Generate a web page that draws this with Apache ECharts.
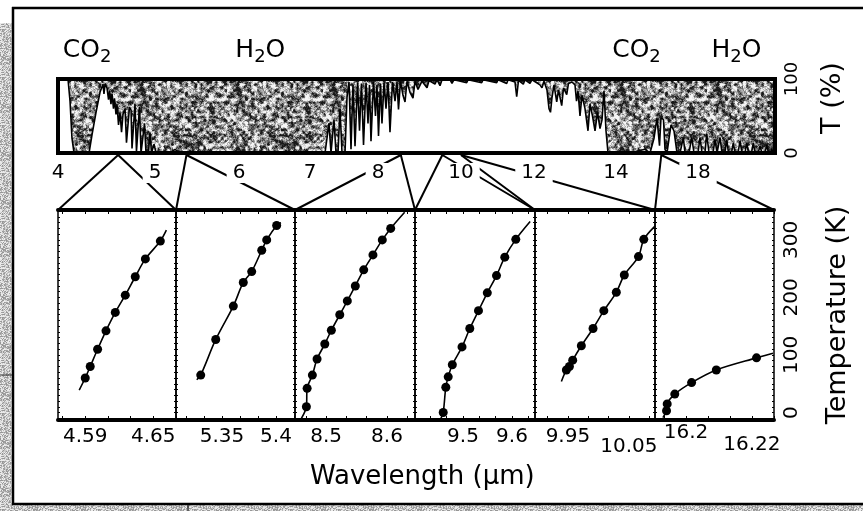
<!DOCTYPE html>
<html>
<head>
<meta charset="utf-8">
<script src="https://cdn.jsdelivr.net/npm/echarts@6/dist/echarts.min.js"></script>
<style>
  html, body { margin: 0; padding: 0; background: #fff; }
  #chart { width: 863px; height: 511px; }
</style>
</head>
<body>
<div id="chart"></div>
<script>
// ---- Transmission strip: wavelength tick labels (µm) ----
const spectrumTicks = [4, 5, 6, 7, 8, 10, 12, 14, 18];
const spectrumEnd = 22;

// ---- Atmospheric transmission spectrum (wavelength µm, transmission %) ----
const specWavelength = [
  4.000, 4.103, 4.124, 4.144, 4.165, 4.320, 4.351, 4.392, 4.433, 4.464, 4.474, 4.485, 4.505,
  4.521, 4.531, 4.546, 4.557, 4.572, 4.582, 4.598, 4.608, 4.624, 4.639, 4.655, 4.670, 4.691,
  4.706, 4.722, 4.737, 4.753, 4.763, 4.778, 4.794, 4.809, 4.825, 4.840, 4.856, 4.876, 4.892,
  4.907, 4.933, 4.948, 4.964, 4.990, 5.012,
  5.179, 5.238, 5.298, 7.221,
  7.250, 7.279, 7.309, 7.353, 7.382, 7.412, 7.441, 7.471, 7.515, 7.544, 7.574, 7.603, 7.632,
  7.662, 7.699, 7.728, 7.757, 7.787, 7.824, 7.853, 7.875, 7.897, 7.934, 7.963, 7.985, 8.012,
  8.060, 8.096, 8.145, 8.193, 8.241, 8.289, 8.349, 8.410, 8.458, 8.494, 8.542, 8.602, 8.651,
  8.699, 8.771, 8.843, 8.892, 8.964, 9.012, 9.060, 9.181, 9.229, 9.373, 9.422,
  9.494, 9.542, 9.735, 9.783, 9.831, 10.156, 10.192, 10.567, 10.603, 10.978, 11.014, 11.252,
  11.288, 11.479, 11.526, 11.575, 11.707, 11.753, 11.890, 11.945, 12.146, 12.195, 12.244,
  12.317, 12.366, 12.402, 12.439, 12.488, 12.554, 12.598, 12.676, 12.720, 12.798, 12.841,
  12.878, 12.927,
  13.000, 13.037, 13.073, 13.122, 13.171, 13.244, 13.317, 13.366, 13.427, 13.488, 13.549,
  13.610, 13.659, 13.707, 13.756, 13.805,
  14.683, 15.415, 15.659, 15.756, 15.854, 16.000, 16.122, 16.195, 16.317, 16.390, 16.488,
  16.683, 16.829, 16.976, 17.122, 17.283, 17.366, 17.561, 17.693, 17.805, 18.000, 18.104,
  18.208, 18.364, 18.452, 18.571, 18.779, 18.883, 18.987, 19.065, 19.143, 19.247, 19.403,
  19.491, 19.584, 19.740, 19.834, 19.922, 20.078, 20.182, 20.286, 20.442, 20.530, 20.623,
  20.779, 20.873, 20.961, 21.117, 21.221, 21.325, 21.481, 21.569, 21.662, 21.766, 21.829,
  21.896, 22.000
];
const specTransmission = [
  100, 100, 70, 20, 0, 0, 25, 55, 82, 93, 80, 93, 88,
  72, 84, 66, 80, 60, 74, 52, 66, 38, 55, 28, 52, 60,
  14, 14, 62, 58, 6, 6, 66, 2, 2, 62, 0, 0, 40,
  0, 0, 28, 0, 12, 0,
  0, 5, 0, 0,
  0, 40, 0, 45, 0, 0, 60, 0, 0, 75, 96, 5, 92,
  9, 95, 30, 94, 11, 95, 40, 92, 16, 96, 50, 92, 23,
  94, 40, 95, 60, 96, 28, 96, 70, 96, 59, 97, 78, 69,
  97, 82, 74, 97, 86, 84, 97, 88, 98, 93, 99,
  91, 99, 99, 94, 99, 95, 99, 95, 99, 95, 99, 94,
  99, 96, 76, 98, 93, 99, 94, 99, 92, 88, 97,
  85, 60, 55, 75, 92, 69, 85, 64, 88, 79, 94,
  92, 96,
  92, 70, 84, 50, 78, 60, 30, 66, 50, 30, 55,
  33, 45, 84, 30, 0,
  0, 5, 0, 0, 20, 47, 10, 48, 45, 5, 0,
  38, 30, 0, 0, 21, 0, 0, 21, 0, 0, 21,
  0, 0, 26, 0, 0, 18, 0, 0, 21, 0, 0,
  18, 0, 0, 14, 0, 0, 16, 0, 0, 14, 0,
  0, 14, 0, 0, 9, 0, 0, 11, 0, 0, 6,
  0, 0
];

// ---- Absorption band annotations ----
const bandNames = ['CO2', 'H2O', 'CO2', 'H2O'];
const bandWavelength = [4.3, 6.3, 15, 20];

// ---- Zoomed windows: axis range (µm) and labelled wavelengths ----
const panelRanges = [[4.566, 4.670], [5.3074, 5.4176], [8.449, 8.646], [9.402, 9.647], [9.896, 10.093], [16.1906, 16.2267]];
const panelLabels = [[4.59, 4.65], [5.35, 5.4], [8.5, 8.6], [9.5, 9.6], [9.95, 10.05], [16.2, 16.22]];

// Temperature vs wavelength in each window. First and last entries are where the
// drawn curve starts and stops; the entries between are the measured points.
const p1Wavelength = [4.5847, 4.5900, 4.5944, 4.6009, 4.6083, 4.6165, 4.6253, 4.6341, 4.6430, 4.6562, 4.6615];
const p1Temperature = [39, 60, 80, 110, 142, 174, 204, 236, 267, 298, 317];
const p2Wavelength = [5.3266, 5.3303, 5.3442, 5.3605, 5.3697, 5.3775, 5.3868, 5.3914, 5.4006, 5.4046];
const p2Temperature = [57, 65, 127, 185, 226, 245, 282, 300, 325, 330];
const p3Wavelength = [8.4595, 8.4677, 8.4689, 8.4775, 8.4852, 8.4979, 8.5087, 8.5225, 8.5349, 8.5480, 8.5618, 8.5770, 8.5923, 8.6061, 8.6290];
const p3Temperature = [-10, 10, 42, 65, 93, 119, 143, 170, 194, 220, 248, 274, 300, 320, 348];
const p4Wavelength = [9.4545, 9.4596, 9.4649, 9.4698, 9.4782, 9.4980, 9.5139, 9.5316, 9.5496, 9.5684, 9.5853, 9.6078, 9.6371];
const p4Temperature = [-11, 0, 44, 62, 83, 114, 146, 177, 208, 238, 270, 301, 332];
const p5Wavelength = [9.9393, 9.9475, 9.9525, 9.9579, 9.9721, 9.9913, 10.0090, 10.0295, 10.0426, 10.0659, 10.0746, 10.0930];
const p5Temperature = [54, 74, 80, 91, 116, 146, 177, 209, 239, 271, 301, 324];
const p6Wavelength = [16.1930, 16.1941, 16.1943, 16.1966, 16.2017, 16.2092, 16.2214, 16.2264];
const p6Temperature = [-9, 3, 15, 32, 52, 74, 95, 103];

const panelWavelength = [p1Wavelength, p2Wavelength, p3Wavelength, p4Wavelength, p5Wavelength, p6Wavelength];
const panelTemperature = [p1Temperature, p2Temperature, p3Temperature, p4Temperature, p5Temperature, p6Temperature];

const tempRange = [-13, 352];
const tempLabels = [0, 100, 200, 300];

// ---------------- layout / style ----------------
const FONT = 'DejaVu Sans';
// horizontal placement of the strip's tick marks (px from its left edge); the wavelength
// scale of the strip is piecewise linear between them
const stripTickPx = [0, 97, 181, 252, 320, 403, 476, 558, 640];
const stripEndPx = 717;
const panelEdges = [58, 176, 295, 415, 535, 655, 774];
const labelDrop = { '10.05': 14, '16.22': 12, '16.2': 0 };

function warp(l) {
  const ks = spectrumTicks.concat([spectrumEnd]);
  const ps = stripTickPx.concat([stripEndPx]);
  for (let i = 0; i < ks.length - 1; i++) {
    if (l <= ks[i + 1] || i === ks.length - 2) {
      return ps[i] + (l - ks[i]) / (ks[i + 1] - ks[i]) * (ps[i + 1] - ps[i]);
    }
  }
}

// deterministic grain texture used for the opaque parts of the strip
function hash2(i, j, seed) {
  let h = (Math.imul(i, 374761393) + Math.imul(j, 668265263) + Math.imul(seed, 1442695041)) | 0;
  h = Math.imul(h ^ (h >>> 13), 1274126177);
  h = h ^ (h >>> 16);
  return (h >>> 0) / 4294967296;
}
function valueNoise(x, y, cell, period, seed) {
  const gx = x / cell, gy = y / cell;
  const i0 = Math.floor(gx), j0 = Math.floor(gy);
  const fx = gx - i0, fy = gy - j0;
  const sx = fx * fx * (3 - 2 * fx), sy = fy * fy * (3 - 2 * fy);
  const p = period;
  const a = hash2(i0 % p, j0 % p, seed), b = hash2((i0 + 1) % p, j0 % p, seed);
  const c = hash2(i0 % p, (j0 + 1) % p, seed), d = hash2((i0 + 1) % p, (j0 + 1) % p, seed);
  return (a * (1 - sx) + b * sx) * (1 - sy) + (c * (1 - sx) + d * sx) * sy;
}
function makeTexture(size, dark, light, contrast, octaves) {
  const cv = document.createElement('canvas');
  cv.width = cv.height = size;
  const ctx = cv.getContext('2d');
  const img = ctx.createImageData(size, size);
  for (let y = 0; y < size; y++) {
    for (let x = 0; x < size; x++) {
      let n = 0;
      octaves.forEach(([cell, w, seed]) => { n += w * valueNoise(x, y, cell, size / cell, seed); });
      let g = 0.5 + (n - 0.5) * contrast;
      g = Math.max(0, Math.min(1, g));
      const v = Math.round(dark + (light - dark) * g);
      const k = (y * size + x) * 4;
      img.data[k] = img.data[k + 1] = img.data[k + 2] = v;
      img.data[k + 3] = 255;
    }
  }
  ctx.putImageData(img, 0, 0);
  return cv;
}
const grain = { image: makeTexture(96, 25, 245, 2.5, [[3, 0.5, 7], [2, 0.3, 13], [1, 0.2, 29]]), repeat: 'repeat' };
const paper = { image: makeTexture(48, 150, 235, 1.6, [[1, 1, 41]]), repeat: 'repeat' };

const chart = echarts.init(document.getElementById('chart'), null, { renderer: 'canvas' });

const grids = [{
  left: 58, top: 79, width: stripEndPx, height: 74, show: true,
  borderColor: '#000', borderWidth: 4, backgroundColor: 'transparent', z: 5, outerBoundsMode: 'none'
}];
for (let i = 0; i < 6; i++) {
  grids.push({
    left: panelEdges[i], top: 210, width: panelEdges[i + 1] - panelEdges[i], height: 210, show: true,
    borderColor: '#000', borderWidth: 1.5, backgroundColor: 'transparent', z: 5, outerBoundsMode: 'none'
  });
}

const stripTickValues = spectrumTicks.map(warp);
const xAxes = [{
  gridIndex: 0, type: 'value', min: 0, max: stripEndPx, position: 'bottom', z: 10,
  axisLine: { show: false, onZero: false },
  axisTick: { show: false },
  splitLine: { show: false },
  axisLabel: {
    customValues: stripTickValues,
    formatter: v => {
      let best = 0;
      stripTickValues.forEach((t, k) => { if (Math.abs(t - v) < Math.abs(stripTickValues[best] - v)) best = k; });
      return String(spectrumTicks[best]);
    },
    fontFamily: FONT, fontSize: 20, color: '#000', margin: 10,
    backgroundColor: '#fff', padding: [0, 6]
  }
}];
const yAxes = [{
  gridIndex: 0, type: 'value', min: 0, max: 100, position: 'right',
  axisLine: { show: false, onZero: false }, axisTick: { show: false }, splitLine: { show: false },
  axisLabel: { customValues: [0, 100], rotate: 90, fontFamily: FONT, fontSize: 18, color: '#000', margin: 8 },
  name: 'T (%)', nameLocation: 'middle', nameRotate: 90, nameGap: 44, nameMoveOverlap: false,
  nameTextStyle: { fontFamily: FONT, fontSize: 27, color: '#000', padding: [0, 0, 0, 36] }
}];

const tempTicks = [];
for (let t = -10; t <= 350; t += 10) tempTicks.push(t);

for (let i = 0; i < 6; i++) {
  const [lo, hi] = panelRanges[i];
  const [a, b] = panelLabels[i];
  const step = (b - a) / 3;
  const ticks = [];
  for (let t = a - Math.floor((a - lo) / step) * step; t <= hi + 1e-9; t += step) ticks.push(+t.toFixed(6));
  const rich = { d: { fontFamily: FONT, fontSize: 20, color: '#000', padding: [4, 0, 0, 0] } };
  const keys = Object.keys(labelDrop);
  keys.forEach((k, n) => {
    rich['p' + n] = { fontFamily: FONT, fontSize: 20, color: '#000', padding: [labelDrop[k], 0, 0, 0] };
  });
  xAxes.push({
    gridIndex: i + 1, type: 'value', min: lo, max: hi, position: 'bottom',
    axisLine: { show: true, onZero: false, lineStyle: { color: '#000', width: 4 } },
    axisTick: { show: true, inside: true, length: 4, customValues: ticks, lineStyle: { color: '#000', width: 1 } },
    splitLine: { show: false },
    axisLabel: {
      customValues: panelLabels[i], margin: 3,
      formatter: v => {
        const s = String(v);
        const n = keys.indexOf(s);
        return n >= 0 ? '{p' + n + '|' + s + '}' : '{d|' + s + '}';
      },
      rich: rich
    }
  });
  xAxes.push({
    gridIndex: i + 1, type: 'value', min: lo, max: hi, position: 'top',
    axisLine: { show: true, onZero: false, lineStyle: { color: '#000', width: 4 } },
    axisTick: { show: true, inside: true, length: 4, customValues: ticks, lineStyle: { color: '#000', width: 1 } },
    splitLine: { show: false }, axisLabel: { show: false }
  });
  const side = {
    gridIndex: i + 1, type: 'value', min: tempRange[0], max: tempRange[1],
    axisLine: { show: false, onZero: false },
    axisTick: { show: true, inside: true, length: 2, customValues: tempTicks, lineStyle: { color: '#000', width: 1 } },
    splitLine: { show: false }, axisLabel: { show: false }
  };
  yAxes.push(Object.assign({}, side, { position: 'left' }));
  const right = Object.assign({}, side, { position: 'right' });
  if (i === 5) {
    right.axisLabel = { show: true, customValues: tempLabels, rotate: 90, fontFamily: FONT, fontSize: 20, color: '#000', margin: 8 };
    right.name = 'Temperature (K)';
    right.nameLocation = 'middle';
    right.nameRotate = 90;
    right.nameGap = 50;
    right.nameMoveOverlap = false;
    right.nameTextStyle = { fontFamily: FONT, fontSize: 27, color: '#000' };
  }
  yAxes.push(right);
}

const series = [{
  type: 'line', xAxisIndex: 0, yAxisIndex: 0, showSymbol: false, z: 2,
  data: specWavelength.map((l, i) => [warp(l), specTransmission[i]]),
  lineStyle: { color: '#000', width: 1.6 },
  areaStyle: { origin: 'end', color: grain, opacity: 1 }
}, {
  type: 'scatter', xAxisIndex: 0, yAxisIndex: 0, symbolSize: 0, z: 6, silent: true,
  itemStyle: { color: '#000' },
  data: bandNames.map((n, i) => ({ name: n, value: [warp(bandWavelength[i]), 100] })),
  label: {
    show: true, position: 'top', distance: 13, color: '#000', opacity: 1, textBorderWidth: 0,
    formatter: p => '{m|' + p.name.replace(/(\d)/g, '}{s|$1}{m|') + '}',
    rich: {
      m: { fontFamily: FONT, fontSize: 25, color: '#000', lineHeight: 32 },
      s: { fontFamily: FONT, fontSize: 18, color: '#000', lineHeight: 14, verticalAlign: 'bottom' }
    }
  },
  emphasis: { disabled: true }
}];
for (let i = 0; i < 6; i++) {
  const xs = panelWavelength[i], ts = panelTemperature[i];
  series.push({
    type: 'line', xAxisIndex: 1 + 2 * i, yAxisIndex: 1 + 2 * i, smooth: 0.3, z: 3,
    symbol: 'circle', symbolSize: 9,
    itemStyle: { color: '#000' },
    lineStyle: { color: '#000', width: 1.6 },
    data: xs.map((x, k) => (k === 0 || k === xs.length - 1)
      ? { value: [x, ts[k]], symbol: 'none' }
      : { value: [x, ts[k]] })
  });
}

chart.setOption({
  animation: false,
  backgroundColor: '#fff',
  textStyle: { fontFamily: FONT },
  title: {
    text: 'Wavelength (µm)', left: 310, top: 464, padding: 0,
    textStyle: { fontFamily: FONT, fontSize: 26, fontWeight: 'normal', color: '#000' }
  },
  grid: grids,
  xAxis: xAxes,
  yAxis: yAxes,
  series: series
});

// connectors from the strip down to each zoomed window, plus the page frame
const stripBottom = chart.convertToPixel({ yAxisIndex: 0 }, 0) + 2;
const elements = [
  { type: 'rect', shape: { x: 0, y: 23, width: 11.5, height: 488 }, style: { fill: paper }, z: 0 },
  { type: 'rect', shape: { x: 0, y: 505, width: 863, height: 6 }, style: { fill: paper }, z: 0 },
  { type: 'line', shape: { x1: 12, y1: 8, x2: 863, y2: 8 }, style: { stroke: '#000', lineWidth: 2.5 }, z: 1 },
  { type: 'line', shape: { x1: 13, y1: 7, x2: 13, y2: 505 }, style: { stroke: '#000', lineWidth: 2.5 }, z: 1 },
  { type: 'line', shape: { x1: 12, y1: 504, x2: 863, y2: 504 }, style: { stroke: '#000', lineWidth: 2.5 }, z: 1 },
  { type: 'line', shape: { x1: 188, y1: 505, x2: 188, y2: 511 }, style: { stroke: '#333', lineWidth: 1.5 }, z: 1 },
  { type: 'line', shape: { x1: 0, y1: 375, x2: 12, y2: 375 }, style: { stroke: '#333', lineWidth: 1 }, z: 1 }
];
for (let i = 0; i < 6; i++) {
  const [a, b] = panelLabels[i];
  const apexX = chart.convertToPixel({ xAxisIndex: 0 }, warp((a + b) / 2));
  const topY = chart.convertToPixel({ yAxisIndex: 1 + 2 * i }, tempRange[1]);
  const x0 = chart.convertToPixel({ xAxisIndex: 1 + 2 * i }, panelRanges[i][0]);
  const x1 = chart.convertToPixel({ xAxisIndex: 1 + 2 * i }, panelRanges[i][1]);
  elements.push({ type: 'line', shape: { x1: apexX, y1: stripBottom, x2: x0, y2: topY }, style: { stroke: '#000', lineWidth: 2 }, z: 1 });
  elements.push({ type: 'line', shape: { x1: apexX, y1: stripBottom, x2: x1, y2: topY }, style: { stroke: '#000', lineWidth: 2 }, z: 1 });
}
chart.setOption({ graphic: { elements: elements } });
</script>
</body>
</html>
